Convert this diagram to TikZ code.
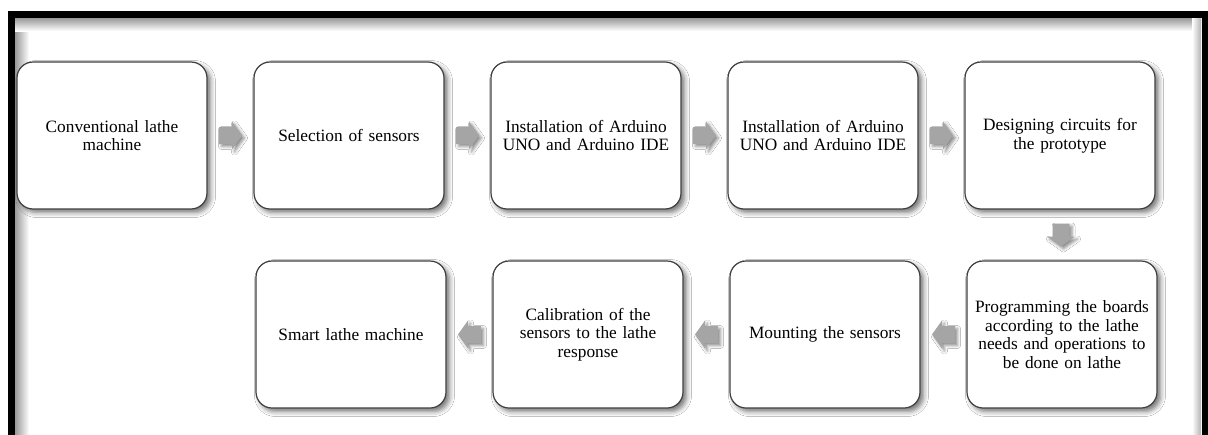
\documentclass[tikz,border=0pt]{standalone}
\usepackage{fontspec}
\setmainfont{Liberation Serif}
\usetikzlibrary{shadows.blur,calc}
\definecolor{boxline}{HTML}{404040}
\definecolor{arrowgray}{HTML}{A5A5A5}
\tikzset{
  stepbox/.style={draw=boxline, line width=1.2pt, fill=white, rounded corners=16pt,
    minimum width=190pt, minimum height=147pt, inner sep=0pt, text width=184pt, align=center,
    font=\fontsize{17.3}{18.7}\selectfont,
    blur shadow={shadow xshift=3.5pt, shadow yshift=-3.5pt, shadow blur radius=5pt, shadow opacity=55}},
  blockarrow/.style={fill=arrowgray,
    blur shadow={shadow xshift=2.5pt, shadow yshift=-2.5pt, shadow blur radius=3pt, shadow opacity=45}}
}
\newcommand\blkR[1]{\fill[blockarrow] ([shift={(-11.5,-8.5)}]#1) -- ([shift={(1.5,-8.5)}]#1) -- ([shift={(1.5,-14)}]#1) -- ([shift={(11.5,0)}]#1) -- ([shift={(1.5,14)}]#1) -- ([shift={(1.5,8.5)}]#1) -- ([shift={(-11.5,8.5)}]#1) -- cycle;}
\newcommand\blkL[1]{\fill[blockarrow] ([shift={(11.5,-8.5)}]#1) -- ([shift={(-1.5,-8.5)}]#1) -- ([shift={(-1.5,-14)}]#1) -- ([shift={(-11.5,0)}]#1) -- ([shift={(-1.5,14)}]#1) -- ([shift={(-1.5,8.5)}]#1) -- ([shift={(11.5,8.5)}]#1) -- cycle;}
\newcommand\blkD[1]{\fill[blockarrow] ([shift={(-8.5,-11.5)}]#1) -- ([shift={(-8.5,1.5)}]#1) -- ([shift={(-14,1.5)}]#1) -- ([shift={(0,11.5)}]#1) -- ([shift={(14,1.5)}]#1) -- ([shift={(8.5,1.5)}]#1) -- ([shift={(8.5,-11.5)}]#1) -- cycle;}
\begin{document}
\begin{tikzpicture}[x=1pt,y=-1pt]
\useasboundingbox (0,0) rectangle (1208,434);
\fill[white] (0,0) rectangle (1208,434);
% inner shading of the frame
\shade[left color=black!40, right color=white] (15,18) rectangle (29,440);
\shade[top color=black!40, bottom color=white] (15,18) rectangle (1201,31);
\shade[left color=white, right color=black!30] (1192,18) rectangle (1201,440);
% frame
\draw[line width=7pt, line join=miter] (11.5,445) -- (11.5,14.5) -- (1205,14.5) -- (1205,445);
% row 1
\node[stepbox] (b1) at (112,135.5) {Conventional lathe\\machine};
\node[stepbox] (b2) at (349,135.5) {Selection of sensors};
\node[stepbox] (b3) at (586,135.5) {Installation of Arduino\\UNO and Arduino IDE};
\node[stepbox] (b4) at (823,135.5) {Installation of Arduino\\UNO and Arduino IDE};
\node[stepbox] (b5) at (1060,135.5) {Designing circuits for\\the prototype};
% row 2
\node[stepbox] (b6) at (1062,334.5) {Programming the boards\\according to the lathe\\needs and operations to\\be done on lathe};
\node[stepbox] (b7) at (825,334.5) {Mounting the sensors};
\node[stepbox] (b8) at (588,334.5) {Calibration of the\\sensors to the lathe\\response};
\node[stepbox] (b9) at (351,334.5) {Smart lathe machine};
% arrow anchors
\coordinate (m1) at ($(b1.east)!0.5!(b2.west)$);
\coordinate (m2) at ($(b2.east)!0.5!(b3.west)$);
\coordinate (m3) at ($(b3.east)!0.5!(b4.west)$);
\coordinate (m4) at ($(b4.east)!0.5!(b5.west)$);
\coordinate (m5) at ($(b5.south)!0.5!(b6.north)$);
\coordinate (m6) at ($(b6.west)!0.5!(b7.east)$);
\coordinate (m7) at ($(b7.west)!0.5!(b8.east)$);
\coordinate (m8) at ($(b8.west)!0.5!(b9.east)$);
\blkR{m1}
\blkR{m2}
\blkR{m3}
\blkR{m4}
\blkD{m5}
\blkL{m6}
\blkL{m7}
\blkL{m8}
\end{tikzpicture}
\end{document}
